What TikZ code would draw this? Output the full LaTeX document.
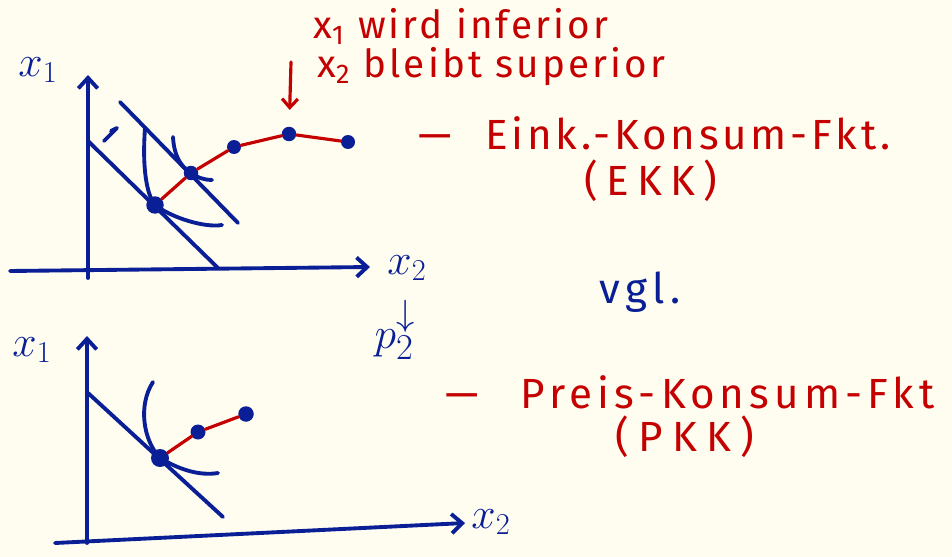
\documentclass[tikz,border=0pt]{standalone}
\usepackage{fontspec}
\setmainfont{Fira Sans}
\usetikzlibrary{arrows.meta,positioning,calc}
\definecolor{paper}{HTML}{FEFDF0}
\definecolor{ink}{HTML}{0A1E96}
\definecolor{pen}{HTML}{C40000}

\begin{document}
\begin{tikzpicture}[x=0.02cm, y=-0.02cm, line cap=round, line join=round,
    blueline/.style={ink, line width=2.2pt},
    redline/.style={pen, line width=1.8pt},
    dot/.style={circle, fill=ink, inner sep=0pt, minimum size=#1},
    redtext/.style={pen, font=\fontsize{24}{28}\selectfont, inner sep=0pt},
    bluetext/.style={ink, font=\fontsize{24}{28}\selectfont, inner sep=0pt},
    axlbl/.style={ink, font=\fontsize{26}{30}\selectfont, inner sep=0pt}]
    \fill[paper] (0,0) rectangle (952,557);
    \useasboundingbox (0,0) rectangle (952,557);

    % Top diagram: axes
    \coordinate (y1bot) at (88,278);
    \coordinate (y1top) at (88,75);
    \coordinate (x1left) at (10,271);
    \coordinate (x1right) at (370,267);
    \draw[blueline, -{Straight Barb[length=6pt,width=11pt]}] (y1bot) -- (y1top);
    \draw[blueline, -{Straight Barb[length=6pt,width=11pt]}] (x1left) -- (x1right);
    \node[axlbl] (ylab1) at (38,70) {$x_1$};
    \node[axlbl] (xlab1) at (407,268) {$x_2$};

    % Budget lines and shift mark
    \coordinate (b1a) at (88,141);
    \coordinate (b1b) at (218,268);
    \coordinate (b2a) at (120,102);
    \coordinate (b2b) at (238,223);
    \draw[blueline] (b1a) -- (b1b);
    \draw[blueline] (b2a) -- (b2b);
    \draw[blueline] (104,141) -- (117,128) -- (111,131);

    % Optima
    \coordinate (c1) at (155,205);
    \coordinate (c2) at (191,173);
    \draw[blueline] (145,128) .. controls (142,170) and (147,195) .. (c1) .. controls (172,218) and (205,228) .. (222,225);
    \draw[blueline] (173,137) .. controls (174,155) and (180,166) .. (c2) .. controls (198,178) and (205,180) .. (212,180);
    \node[dot=0.35cm] (e1) at (c1) {};
    \node[dot=0.29cm] (e2) at (c2) {};
    \node[dot=0.28cm] (e3) at (234,147) {};
    \node[dot=0.29cm] (e4) at (289,134) {};
    \node[dot=0.28cm] (e5) at (348,142) {};

    % EKK
    \draw[redline] (e1) -- (e2) -- (e3) -- (e4) -- (e5);
    \coordinate (arrtop) at (291,62);
    \draw[redline, -{Straight Barb[length=5pt,width=9pt]}, shorten >=0.33cm] (arrtop) -- (e4);

    % Texts
    \node[redtext, anchor=base west, font=\fontsize{22}{26}\selectfont] (inf) at (313,39) {\addfontfeatures{LetterSpace=8}x\textsubscript{1} wird inferior};
    \node[redtext, anchor=base west, font=\fontsize{22}{26}\selectfont] (sup) at (317,78) {\addfontfeatures{LetterSpace=8}x\textsubscript{2} bleibt superior};
    \node[redtext, anchor=west] (ekk) at (418,133) {—\hspace{0.8em}\addfontfeatures{LetterSpace=9}Eink.-Konsum-Fkt.};
    \node[redtext] (ekkabbr) at (651,181) {\addfontfeatures{LetterSpace=20}(EKK)};
    \node[bluetext] (vgl) at (640,292) {\addfontfeatures{LetterSpace=12}vgl.};
    \node[bluetext, font=\fontsize{30}{34}\selectfont] (p2) at (395,330) {$p_2^{\downarrow}$};

    % Bottom diagram: axes
    \coordinate (y2bot) at (87,543);
    \coordinate (y2top) at (87,336);
    \coordinate (x2left) at (55,543);
    \coordinate (x2right) at (465,523);
    \draw[blueline, -{Straight Barb[length=6pt,width=11pt]}] (y2bot) -- (y2top);
    \draw[blueline, -{Straight Barb[length=6pt,width=11pt]}] (x2left) -- (x2right);
    \node[axlbl] (ylab2) at (32,350) {$x_1$};
    \node[axlbl] (xlab2) at (491,522) {$x_2$};

    % Budget line, indifference curve
    \coordinate (b3a) at (88,393);
    \coordinate (b3b) at (223,517);
    \draw[blueline] (b3a) -- (b3b);
    \coordinate (c6) at (160,458);
    \draw[blueline] (153,382) .. controls (138,405) and (143,440) .. (c6) .. controls (180,470) and (200,476) .. (218,473);
    \node[dot=0.36cm] (f1) at (c6) {};
    \node[dot=0.3cm] (f2) at (198,432) {};
    \node[dot=0.31cm] (f3) at (246,414) {};

    % PKK
    \draw[redline] (f1) -- (f2) -- (f3);
    \node[redtext, anchor=west] (pkk) at (445,392) {—\hspace{1em}\addfontfeatures{LetterSpace=12}Preis-Konsum-Fkt};
    \node[redtext] (pkkabbr) at (685,437) {\addfontfeatures{LetterSpace=22}(PKK)};
\end{tikzpicture}
\end{document}
